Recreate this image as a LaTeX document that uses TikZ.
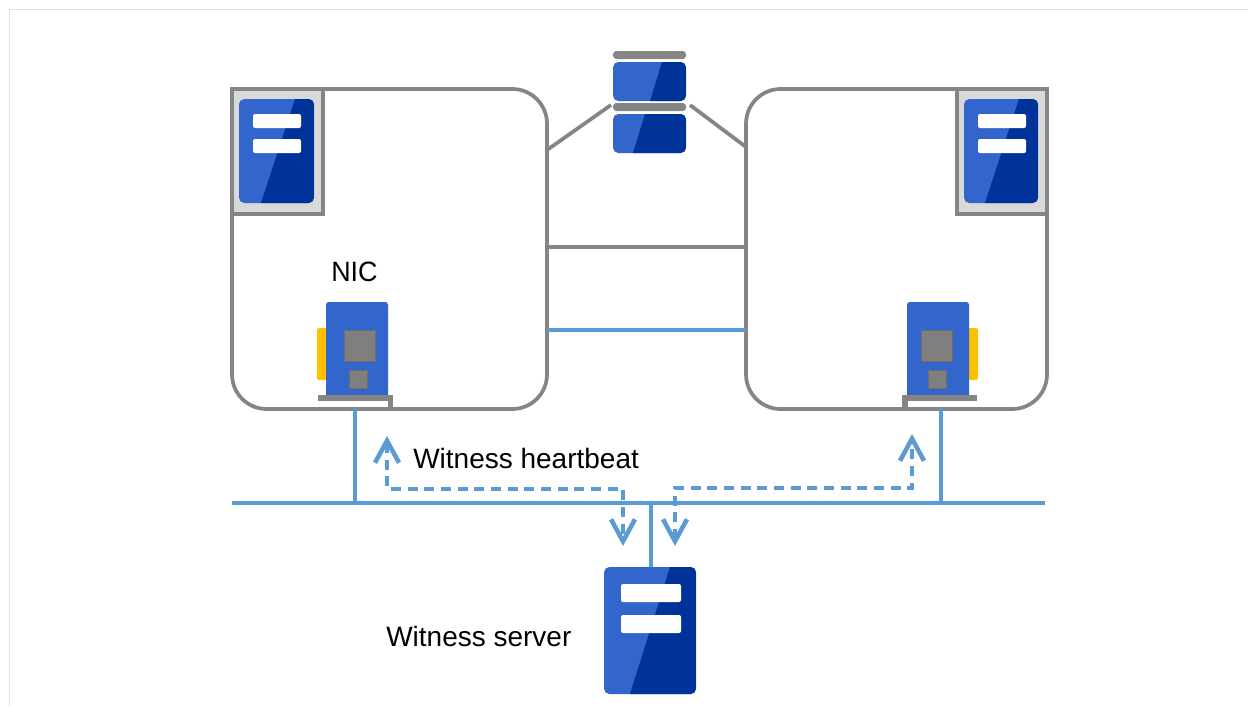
\documentclass[tikz,border=0pt]{standalone}
\usepackage{fontspec}
\setmainfont{Liberation Sans}
\usetikzlibrary{positioning, calc, arrows.meta}
\definecolor{LineGray}{HTML}{858585}
\definecolor{SlotGray}{HTML}{D9D9D9}
\definecolor{ChipGray}{HTML}{7F7F7F}
\definecolor{NetBlue}{HTML}{5B9BD5}
\definecolor{FaceBlue}{HTML}{3366CC}
\definecolor{DeepBlue}{HTML}{003399}
\definecolor{PortYellow}{HTML}{FFC000}
\tikzstyle{DashArrow} = [
%Dashed heartbeat path with an open tip at each end:
NetBlue, line width = 3pt,
dash pattern = on 7.5pt off 5pt,
{Straight Barb[length = 16.5pt, width = 18pt, line width = 3.4pt]}-{Straight Barb[length = 16.5pt, width = 18pt, line width = 3.4pt]}
]

\begin{document}
\begin{tikzpicture}[
				x = 0.75pt, y = -0.75pt,
				size/.style 2 args = {minimum width = #1*0.75pt, minimum height = #2*0.75pt, inner sep = 0pt, outer sep = 0pt, anchor = north west},
				cluster/.style = {rectangle, draw = LineGray, line width = 2.8pt, rounded corners = 26pt},
				slot/.style = {rectangle, draw = LineGray, fill = SlotGray, line width = 2.8pt},
				glossy/.style 2 args = {rectangle, rounded corners = 4pt, fill = FaceBlue, path picture = {
					\fill[DeepBlue, sharp corners] ([xshift = -#1*0.75pt]path picture bounding box.north east) -- (path picture bounding box.north east) -- (path picture bounding box.south east) -- ([xshift = -#2*0.75pt]path picture bounding box.south east) -- cycle;
				}},
				bar/.style = {rectangle, fill = white, rounded corners = 1.5pt},
				rail/.style = {rectangle, fill = LineGray, rounded corners = 2.5pt},
				nic/.style = {rectangle, fill = FaceBlue, rounded corners = 2pt},
				port/.style = {rectangle, fill = PortYellow, rounded corners = 1.5pt},
				chip/.style = {rectangle, fill = ChipGray, draw = ChipGray!85!black, line width = 0.5pt},
				link/.style = {LineGray, line width = 2.8pt},
				net/.style = {NetBlue, line width = 2.8pt},
				label/.style = {font = \fontsize{21}{25}\selectfont, inner sep = 0pt},
			]

			\useasboundingbox (0,0) rectangle (1248,707);
			\draw[SlotGray!80, line width = 0.75pt] (9,707) -- (9,9) -- (1248,9);

			%clusters
			\node[cluster, size = {315}{320}](serverL) at (232,89){};
			\node[cluster, size = {301}{320}](serverR) at (746,89){};
			\node[slot, size = {91}{125}](slotL) at (232,89){};
			\node[slot, size = {90}{125}](slotR) at (957,89){};

			\node[glossy = {19}{53}, size = {75}{104}](hostL) at (239,99){};
			\node[bar, size = {48}{14}](barLa) at (253,114){};
			\node[bar, size = {48}{14}](barLb) at (253,139){};
			\node[glossy = {19}{53}, size = {74}{104}](hostR) at (964,99){};
			\node[bar, size = {48}{14}](barRa) at (978,114){};
			\node[bar, size = {48}{14}](barRb) at (978,139){};

			%shared disk
			\node[rail, size = {73}{8}](railA) at (613,51){};
			\node[glossy = {24}{36}, size = {73}{39}](diskA) at (613,62){};
			\node[rail, size = {73}{8}](railB) at (613,103){};
			\node[glossy = {41}{53}, size = {73}{39}](diskB) at (613,114){};

			\coordinate (diskL) at (611,105);
			\coordinate (diskR) at (690,105);
			\draw[link](serverL.east |- 0,150)--(diskL);
			\draw[link](diskR)--(serverR.west |- 0,147);
			\draw[link](serverL.east |- 0,247)--(serverR.west |- 0,247);
			\draw[net](serverL.east |- 0,330)--(serverR.west |- 0,330);

			%NICs
			\node[port, size = {10}{52}](portL) at (317,328){};
			\node[nic, size = {62}{96}](nicL) at (326,302){};
			\node[chip, size = {31}{31}](chipLa) at (344,330){};
			\node[chip, size = {18}{18}](chipLb) at (349,370){};
			\draw[link, line width = 3.8pt](318,398)--(390.5,398)--(390.5,409);

			\node[port, size = {10}{52}](portR) at (968,328){};
			\node[nic, size = {62}{96}](nicR) at (907,302){};
			\node[chip, size = {31}{31}](chipRa) at (921,330){};
			\node[chip, size = {18}{18}](chipRb) at (928,370){};
			\draw[link, line width = 3.8pt](977,398)--(905,398)--(905,409);

			\node[label, anchor = base west, xscale = 0.96](nicText) at (331,281){NIC};

			%network
			\coordinate (netL) at (232,503);
			\coordinate (netR) at (1045,503);
			\coordinate (netM) at (651,503);
			\draw[net](netL)--(netR);
			\draw[net](serverL.south -| 355,0)--(355,503);
			\draw[net](serverR.south -| 941,0)--(941,503);

			%witness
			\node[glossy = {26}{66}, size = {92}{127}](witness) at (604,567){};
			\node[bar, size = {60}{18}](barWa) at (621,584){};
			\node[bar, size = {60}{18}](barWb) at (621,615){};
			\draw[net](netM)--(netM |- witness.north);

			\coordinate (beatA) at (387,436);
			\coordinate (beatB) at (623,546);
			\coordinate (beatC) at (675,546);
			\coordinate (beatD) at (912,434);
			\draw[DashArrow](beatA) -- (beatA |- 0,489) -- (beatB |- 0,489) -- (beatB);
			\draw[DashArrow](beatC) -- (beatC |- 0,488) -- (beatD |- 0,488) -- (beatD);

			\node[label, anchor = base west](beatText) at (413,468){Witness heartbeat};
			\node[label, anchor = base west](witnessText) at (386,646){Witness server};

		\end{tikzpicture}
\end{document}
